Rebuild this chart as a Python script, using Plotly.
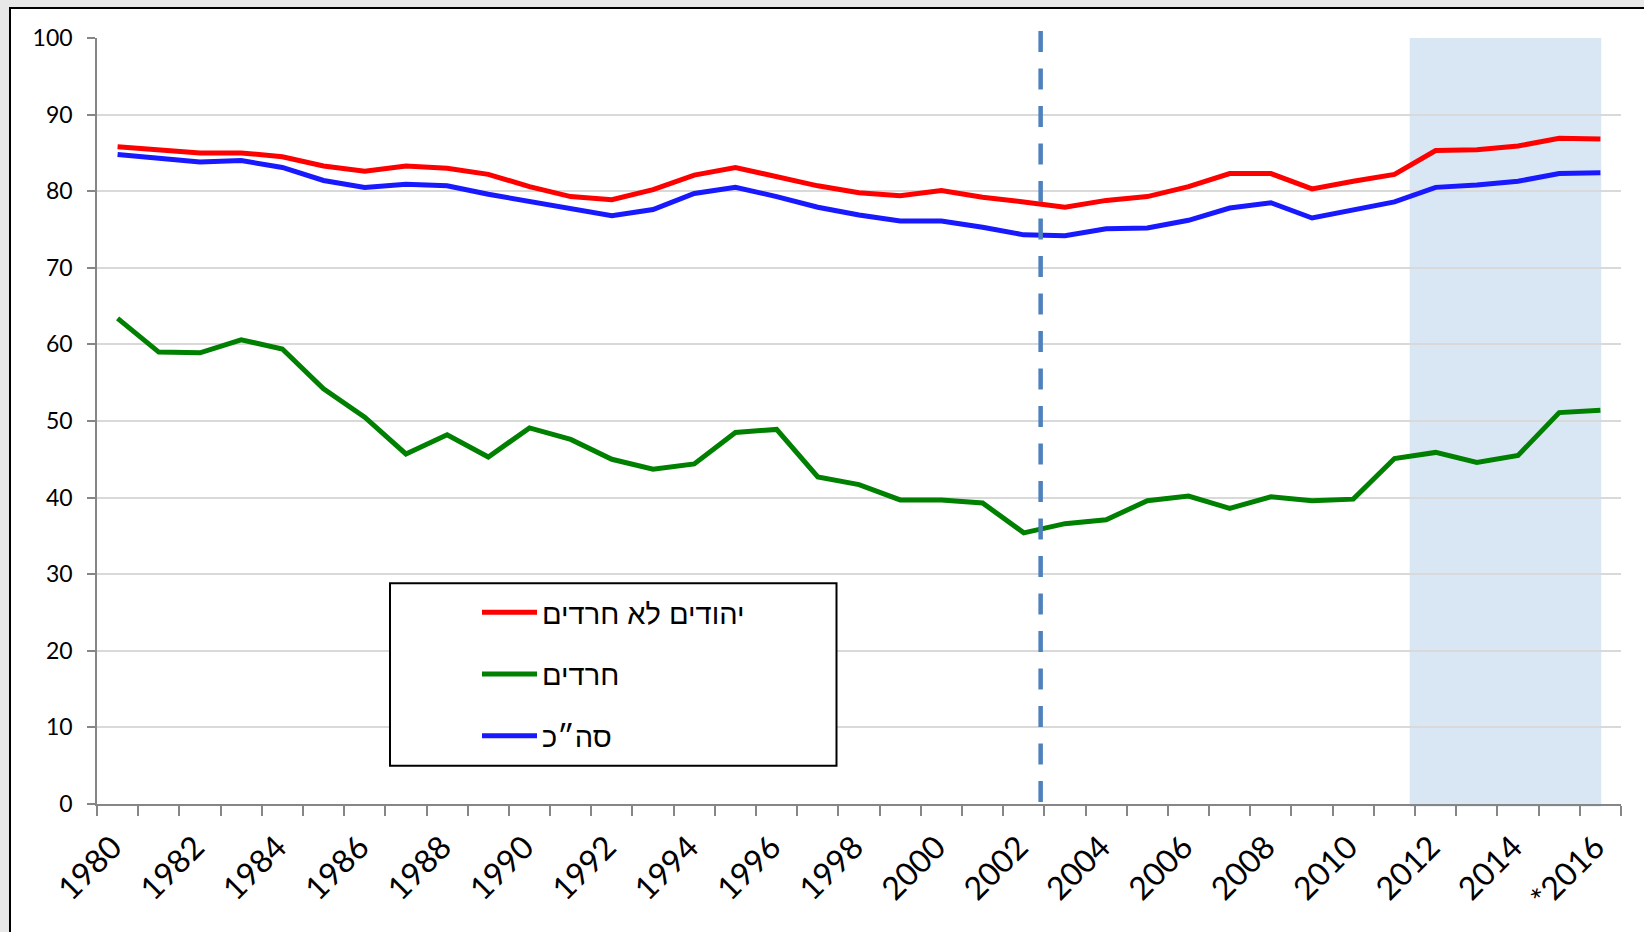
import plotly.graph_objects as go

# ---------------- data ----------------
years = [1980, 1981, 1982, 1983, 1984, 1985, 1986, 1987, 1988, 1989,
         1990, 1991, 1992, 1993, 1994, 1995, 1996, 1997, 1998, 1999,
         2000, 2001, 2002, 2003, 2004, 2005, 2006, 2007, 2008, 2009,
         2010, 2011, 2012, 2013, 2014, 2015, 2016]

non_haredi = [85.8, 85.4, 85.0, 85.0, 84.5, 83.3, 82.6, 83.3, 83.0, 82.2,
              80.6, 79.3, 78.9, 80.2, 82.1, 83.1, 81.9, 80.7, 79.8, 79.4,
              80.1, 79.2, 78.6, 77.9, 78.8, 79.3, 80.6, 82.3, 82.3, 80.3,
              81.3, 82.2, 85.3, 85.4, 85.9, 86.9, 86.8]

haredi = [63.4, 59.0, 58.9, 60.6, 59.4, 54.2, 50.5, 45.7, 48.2, 45.3,
          49.1, 47.6, 45.0, 43.7, 44.4, 48.5, 48.9, 42.7, 41.7, 39.7,
          39.7, 39.3, 35.4, 36.6, 37.1, 39.6, 40.2, 38.6, 40.1, 39.6,
          39.8, 45.1, 45.9, 44.6, 45.5, 51.1, 51.4]

total = [84.8, 84.3, 83.8, 84.0, 83.1, 81.4, 80.5, 80.9, 80.7, 79.6,
         78.7, 77.8, 76.8, 77.6, 79.7, 80.5, 79.3, 77.9, 76.9, 76.1,
         76.1, 75.3, 74.3, 74.2, 75.1, 75.2, 76.2, 77.8, 78.5, 76.5,
         77.5, 78.6, 80.5, 80.8, 81.3, 82.3, 82.4]

series_names = ["יהודים לא חרדים", "חרדים", "סה״כ"]

tick_years = [1980, 1982, 1984, 1986, 1988, 1990, 1992, 1994, 1996, 1998,
              2000, 2002, 2004, 2006, 2008, 2010, 2012, 2014, 2016]
tick_labels = ["1980", "1982", "1984", "1986", "1988", "1990", "1992", "1994",
               "1996", "1998", "2000", "2002", "2004", "2006", "2008", "2010",
               "2012", "2014", "*2016"]

y_ticks = [0, 10, 20, 30, 40, 50, 60, 70, 80, 90, 100]

divider_year = 2002.41          # dashed vertical marker
shade_start, shade_end = 2011.37, 2016.02   # shaded (estimated) period

# ---------------- figure ----------------
W, H = 1644, 932
ML, MR, MT, MB = 97, 23, 38, 128
PW, PH = W - ML - MR, H - MT - MB


def px_x(p):
    return (p - ML) / PW


def px_y(p):
    return (H - MB - p) / PH


colors = ["#ff0000", "#008000", "#1919ff"]
fig = go.Figure()
for i, (name, vals) in enumerate(zip(series_names, [non_haredi, haredi, total])):
    fig.add_trace(go.Scatter(
        x=years, y=vals, mode="lines", name=name, legendgroup=f"g{i}",
        line=dict(color=colors[i], width=5),
        hoverinfo="x+y+name",
    ))

# outer frame (chart area border)
fig.add_shape(type="rect", xref="paper", yref="paper",
              x0=px_x(10), x1=px_x(1700), y0=px_y(8), y1=px_y(1000),
              line=dict(color="black", width=2), fillcolor="white", layer="below")
# shaded period
fig.add_shape(type="rect", xref="x", yref="paper",
              x0=shade_start, x1=shade_end, y0=px_y(806.5), y1=1,
              line=dict(width=0), fillcolor="#d9e7f4", layer="below")
# dashed divider
fig.add_shape(type="line", xref="x", yref="paper",
              x0=divider_year, x1=divider_year, y0=px_y(31), y1=0,
              line=dict(color="#4f81bd", width=4.5, dash="21px,16.5px"), layer="above")
# legend box
fig.add_shape(type="rect", xref="paper", yref="paper",
              x0=px_x(390), x1=px_x(836.5), y0=px_y(583.3), y1=px_y(765.7),
              line=dict(color="black", width=2), fillcolor="white", layer="above")

fig.update_layout(
    width=W, height=H,
    margin=dict(l=ML, r=MR, t=MT, b=MB, pad=0),
    paper_bgcolor="#e8e8e8",
    plot_bgcolor="white",
    font=dict(family="Lato, 'Liberation Sans', 'DejaVu Sans', sans-serif", color="black"),
    showlegend=True,
    legend=dict(
        x=px_x(477), y=px_y(587), xanchor="left", yanchor="top",
        bgcolor="rgba(0,0,0,0)", borderwidth=0,
        font=dict(family="'Liberation Sans', Arial, sans-serif", size=29, color="black"),
        tracegroupgap=21, itemwidth=55, traceorder="grouped",
    ),
    xaxis=dict(
        range=[1979.5, 2016.5], tickmode="array", tickvals=tick_years, ticktext=tick_labels,
        tickangle=-45, ticks="", showgrid=False, zeroline=False,
        showline=True, linecolor="#868686", linewidth=1.5,
        tickfont=dict(size=32, family="Lato, sans-serif", color="black"),
        ticklabelstandoff=10, ticklabelshift=-5,
        minor=dict(ticks="outside", tick0=1979.5, dtick=1, ticklen=10,
                   tickcolor="#868686", tickwidth=1.5, showgrid=False),
    ),
    yaxis=dict(
        range=[0, 100], tickmode="array", tickvals=y_ticks,
        ticks="outside", ticklen=8, tickcolor="#868686", tickwidth=1.5,
        showgrid=True, gridcolor="#d9d9d9", gridwidth=1.5, zeroline=False,
        showline=True, linecolor="#868686", linewidth=1.5,
        tickfont=dict(size=23, family="Lato, sans-serif", color="black"),
        ticklabelstandoff=10,
    ),
)

fig.write_html("out.html", config={"displayModeBar": False},
               post_script="document.body.style.margin='0';document.body.style.overflow='hidden';")
